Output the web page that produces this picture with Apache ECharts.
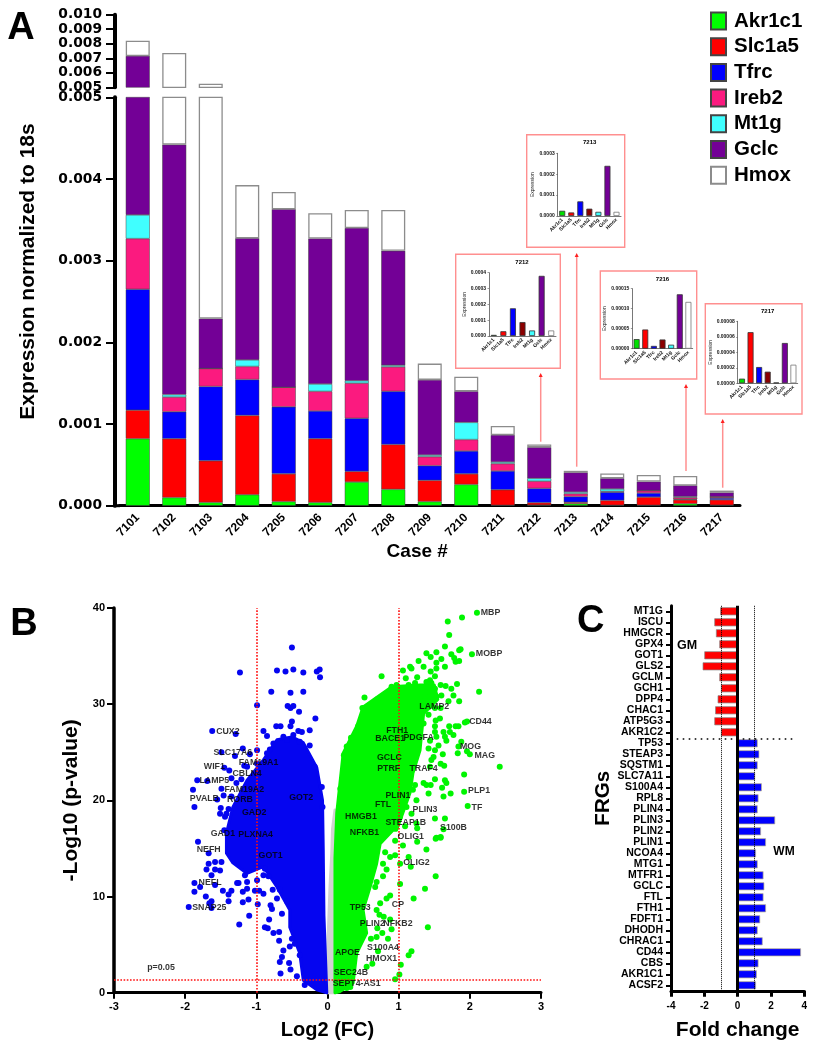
<!DOCTYPE html>
<html><head><meta charset="utf-8">
<style>html,body{margin:0;padding:0;background:#fff}#c{width:818px;height:1050px}</style>
<script src="https://cdn.jsdelivr.net/npm/echarts@6/dist/echarts.min.js"></script>
</head><body><div id="c"></div>
<script>
// ---------- Panel A data (expression x 1000, labels show the true value) ----------
const cases=['7101','7102','7103','7204','7205','7206','7207','7208','7209','7210','7211','7212','7213','7214','7215','7216','7217'];
const akr1c1=[.82,.1,.04,.135,.05,.04,.29,.2,.05,.26,.005,.007,.025,.005,.005,.024,.006];
const slc1a5=[.35,.72,.51,.97,.34,.78,.13,.55,.26,.13,.19,.03,.017,.06,.1,.048,.066];
const tfrc=[1.48,.33,.91,.44,.82,.34,.65,.65,.18,.28,.23,.175,.07,.1,.05,.007,.021];
const ireb2=[.62,.18,.22,.16,.24,.24,.43,.3,.11,.14,.09,.088,.035,.01,.03,.023,.015];
const mt1g=[.29,.03,0,.08,0,.09,.03,.02,.02,.21,.02,.035,.02,.03,0,.01,.001];
const gclc=[3.6,3.06,.61,1.49,2.18,1.78,1.87,1.4,.92,.38,.33,.38,.24,.13,.11,.136,.052];
const hmox=[1.05,2.95,2.96,.65,.21,.31,.22,.5,.2,.18,.11,.035,.02,.06,.08,.117,.024];
const geneNames=['Akr1c1','Slc1a5','Tfrc','Ireb2','Mt1g','Gclc','Hmox'];
const geneColors=['#00ff00','#ff0000','#0000ff','#fb1a7f','#40ffff','#730096','#ffffff'];
// ---------- Inset data ----------
const insetGenes=['Akr1c1','Slc1a5','Tfrc','Ireb2','Mt1g','Gclc','Hmox'];
const insetColors=['#00e000','#ff0000','#0000ff','#8b0000','#40ffff','#730096','#ffffff'];
const inset7212=[.000007,.00003,.000175,.000088,.000035,.00038,.000035];
const inset7213=[.000025,.000017,.00007,.000035,.00002,.00024,.00002];
const inset7216=[.000024,.000048,.000007,.000023,.00001,.000136,.000117];
const inset7217=[.000006,.000066,.000021,.000015,.000001,.000052,.000024];
// ---------- Panel B data: dense regions (outlines) and individually visible points ----------
const grayRegion=[[0.105,19],[0.07,17],[0.06,14.5],[0.035,11],[0,4],[-0.01,0],[0.12,0],[0.13,10]];
const blueRegion=[[-0.34,26],[-0.15,23.4],[-0.07,20],[-0.06,15],[-0.05,8],[-0.01,0],[-0.15,0.3],[-0.34,1.3],[-0.39,4.1],[-0.53,6.8],[-0.53,8.6],[-0.71,11],[-0.9,13.1],[-1.13,12.4],[-1.33,13.5],[-1.42,14.5],[-1.42,16.6],[-1.33,19.3],[-1.13,22.1],[-0.9,24.2],[-0.71,26.3],[-0.5,26.6]];
const greenRegion=[[0.105,0],[0.105,14],[0.13,18.7],[0.22,24.9],[0.41,27.7],[0.5,29.7],[0.9,31.8],[1.3,32],[1.5,32],[1.55,30.5],[1.35,29],[1.3,25.2],[1.2,22.8],[1.16,20.8],[1.06,18.7],[0.97,16.9],[0.92,16.9],[0.74,15.5],[0.69,13.4],[0.6,11],[0.5,8.6],[0.55,6.2],[0.41,4.1],[0.36,1],[0.17,0.1]];
const blueDots=[[-.5,35.9],[-1.23,33.3],[-.71,33.5],[-.59,33.4],[-.48,33.6],[-.34,33.3],[-.15,33.4],[-.11,33.6],[-.105,32.8],[-.79,31.3],[-.52,31.2],[-.34,31.3],[-.99,29.9],[-.56,29.8],[-.52,29.6],[-.48,29.8],[-.4,29.2],[-.17,28.5],[-.5,28.2],[-.72,27.7],[-.66,27.7],[-.52,27.7],[-1.62,27.2],[-1.29,26.9],[-.9,27.2],[-.85,26.7],[-.41,27.2],[-.25,27.3],[-.36,27.1],[-.62,26.6],[-.99,25.2],[-1.19,25.4],[-1.49,25],[-1.3,24.6],[-1.09,24.8],[-.81,25.3],[-1.45,23.4],[-1.38,23.1],[-1.83,22.1],[-1.69,22],[-1.89,21.1],[-1.35,22.3],[-1.49,21.2],[-1.55,20.1],[-1.46,20.5],[-1.87,19.3],[-1.5,19.2],[-1.39,19.1],[-1.44,18.3],[-1.51,18.6],[-1.17,23.6],[-1.21,22.2],[-1.82,15.7],[-1.67,14.5],[-1.58,13.6],[-1.67,13.4],[-1.49,13.6],[-1.7,12.8],[-1.58,12.8],[-1.51,12.7],[-1.63,12.2],[-1.87,11.4],[-1.79,11],[-1.58,11.2],[-1.87,10.5],[-1.47,10.6],[-1.35,10.6],[-1.71,10],[-1.39,10.2],[-1.63,9.5],[-1.39,9.5],[-1.95,8.9],[-1.66,9.3],[-1.63,8.8],[-1.25,11.4],[-1.19,10.5],[-1.13,10.8],[-1.19,9.4],[-1.11,9.7],[-1.1,8],[-1.24,7.1],[-.98,9.2],[-1.02,10.6],[-.96,10.6],[-.9,10.3],[-.77,10.7],[-.88,6.8],[-.84,6.7],[-.82,7.6],[-.76,6.2],[-.68,6.3],[-.8,9.1],[-.78,8.7],[-.71,9.8],[-.64,8.2],[-.68,5.4],[-.5,5.6],[-.53,4.8],[-.62,4.4],[-.64,3.7],[-.67,3.2],[-.66,2],[-.54,3.1],[-.46,5.1],[-.39,3.9],[-.52,2.4],[-.43,1.7],[-.32,.8],[-.88,12.9],[-.9,12.2],[-.83,12.1],[-1.16,12.2],[-1.13,11.5],[-1.27,11.4],[-.99,11.7],[-.67,10.7],[-.57,9.5],[-.57,26.3],[-.48,26.8],[-.39,26.1],[-.25,25.7],[-.18,23.5],[-.08,21.4],[-.07,19.3],[-.76,25.9],[-.85,24.9],[-.99,23.8],[-1.13,23.5],[-1.28,21.8],[-1.35,20.4],[-1.42,18.6],[-1.45,16.9]];
const greenDots=[[2.1,39.5],[1.89,39],[1.69,38.6],[1.71,37.2],[1.65,36],[2.03,35.2],[1.87,35.7],[1.85,35.6],[1.53,35.4],[1.39,35.3],[1.45,34.9],[1.74,35.2],[1.78,34.8],[1.85,34.5],[1.8,34.4],[1.6,34.7],[1.53,34.3],[1.28,34.5],[1.35,33.9],[1.16,33.9],[1.18,33.7],[1.06,33.5],[1.65,33.9],[1.53,33.7],[1.45,33.4],[.76,32.9],[1.1,32.7],[1.26,32.8],[1.51,32.9],[1.44,32.5],[1.82,32.1],[1.59,32],[1.66,31.9],[1.74,31.6],[2.13,31.3],[.52,30.7],[.7,30.5],[1.77,30.9],[1.85,30.3],[1.7,30.3],[.49,29.6],[.64,29.7],[1.59,29.6],[1.58,28.5],[1.52,28.3],[1.93,28.1],[1.96,28.2],[1.8,27.7],[1.84,27.7],[1.71,27.7],[1.51,27.7],[1.72,27.1],[1.63,27.1],[1.65,26.6],[1.77,26.8],[1.88,26.1],[1.84,25.6],[1.67,26.2],[1.96,25.1],[2,24.8],[1.83,24.9],[1.62,24.8],[2.42,23.5],[1.46,24.2],[1.59,23.8],[1.64,23.6],[1.92,22.7],[1.51,22.2],[1.65,22.1],[1.67,21.8],[1.39,21.6],[1.45,21.6],[1.61,21.3],[1.42,20.7],[1.73,20.7],[1.92,20.9],[1.63,20.4],[1.97,19.4],[1.25,20],[1.51,18.1],[1.65,18.1],[1.53,16.1],[1.59,16.2],[1.63,17],[1.59,16.1],[1.52,16],[1.26,17.1],[1.26,15.7],[1.06,15.3],[.95,15.8],[1.39,14.9],[1.14,14.1],[1.02,13.4],[1.17,13.1],[.81,14.6],[.95,14.3],[.88,14.1],[.78,13.4],[1.52,12.1],[1.02,11.3],[1.37,10.8],[.83,12.8],[.78,12.1],[.69,11.5],[.67,11],[1.21,9.8],[.88,10.1],[.83,9.8],[.74,9.3],[.69,8.6],[.73,8.1],[.79,7.9],[.88,7.6],[1.41,6.8],[.9,6.6],[.7,6.7],[.77,6.2],[.69,5.8],[.61,5.6],[.85,5.6],[1.18,4.3],[1.14,3.9],[.71,4.3],[.63,3],[.55,2.7],[1.03,2.9],[1.01,1.9],[.95,1.4],[.27,.5],[.32,.6],[.9,31.8],[.97,32],[1.04,31.6],[1.14,32],[1.23,32.2],[1.3,31.7],[1.39,32.3],[1.46,32.2],[1.51,31.6],[1.44,31.5],[1.53,30.8],[1.49,30.4],[1.6,30.9],[1.37,30.8],[1.42,29.7],[1.51,29.6],[1.42,28.9],[1.35,28],[1.51,27.1],[1.53,26.6],[1.44,26.2],[1.42,25.4],[1.56,25.7],[1.51,25.2],[1.49,24.5],[1.44,23.5],[1.35,21.8],[1.23,21.6],[1.2,21.1],[1.11,19.3],[1.18,18.6],[1.02,18.3],[1.09,17.3],[1.25,17.6],[.33,26.5],[.43,27.7],[.27,25.6],[.23,24.7],[.18,21.2],[.6,29.4],[.76,29.7],[.88,31.1]];
const geneLabels=[['CUX2',-1.4,27.2],['SLC17A6',-1.33,25],['FAM19A1',-.97,23.9],['WIF1',-1.59,23.5],['CBLN4',-1.13,22.8],['LAMP5',-1.59,22.1],['FAM19A2',-1.17,21.1],['PVALB',-1.73,20.2],['RORB',-1.23,20.1],['GOT2',-.37,20.3],['GAD2',-1.03,18.7],['GAD1',-1.47,16.5],['PLXNA4',-1.01,16.4],['NEFH',-1.67,14.9],['GOT1',-.8,14.3],['NEFL',-1.65,11.4],['SNAP25',-1.66,8.9],['p=0.05',-2.34,2.6],['MBP',2.29,39.5],['MOBP',2.27,35.3],['LAMP2',1.5,29.7],['CD44',2.15,28.2],['FTH1',.98,27.3],['BACE1',.88,26.4],['PDGFA',1.28,26.5],['MOG',2.01,25.6],['MAG',2.21,24.7],['GCLC',.87,24.4],['PTRF',.86,23.3],['TRAF4',1.35,23.3],['PLIN1',.99,20.5],['PLP1',2.13,21],['TF',2.1,19.3],['FTL',.78,19.6],['PLIN3',1.37,19],['HMGB1',.47,18.3],['STEAP1B',1.1,17.7],['S100B',1.77,17.2],['NFKB1',.52,16.7],['OLIG1',1.17,16.2],['OLIG2',1.25,13.5],['CP',.99,9.2],['TP53',.46,8.8],['PLIN2',.63,7.2],['NFKB2',.99,7.2],['S100A4',.78,4.7],['APOE',.28,4.2],['HMOX1',.76,3.6],['SEC24B',.33,2.1],['SEPT4-AS1',.41,1]];
// ---------- Panel C data ----------
const gmGenes=['MT1G','ISCU','HMGCR','GPX4','GOT1','GLS2','GCLM','GCH1','DPP4','CHAC1','ATP5G3','AKR1C2'];
const gmFold=[-1.05,-1.4,-1.3,-1.1,-2,-2.1,-1.1,-1,-1.2,-1.35,-1.4,-1];
const wmGenes=['TP53','STEAP3','SQSTM1','SLC7A11','S100A4','RPL8','PLIN4','PLIN3','PLIN2','PLIN1','NCOA4','MTG1','MTFR1','GCLC','FTL','FTH1','FDFT1','DHODH','CHRAC1','CD44','CBS','AKR1C1','ACSF2'];
const wmFold=[1.2,1.3,1.2,1.05,1.45,1.25,1.2,2.25,1.4,1.7,1.1,1.2,1.55,1.6,1.55,1.7,1.35,1.2,1.5,3.8,1.25,1.15,1.1];

const AR='"Liberation Sans",Arial,sans-serif', DJ='"DejaVu Sans",sans-serif';
const grids=[],xAxes=[],yAxes=[],series=[],graphic=[];
const line=(x1,y1,x2,y2,color,w,dash)=>graphic.push({type:'line',silent:true,z:20,shape:{x1,y1,x2,y2},style:{stroke:color,lineWidth:w,lineDash:dash||null}});
const text=(t,x,y,size,weight,rot)=>graphic.push({type:'text',silent:true,z:30,x,y,rotation:rot||0,style:{text:t,fill:'#000',font:`${weight} ${size}px ${AR}`,textAlign:'center',textVerticalAlign:'middle'}});

// Panel A lower + upper
grids.push({left:119.5,top:97.3,width:620.5,height:408.4});
grids.push({left:119.5,top:14.7,width:620.5,height:72.6});
const bigTick={fontFamily:DJ,fontWeight:'bold',fontSize:13.8,lineHeight:10,color:'#000',margin:13,showMinLabel:true,showMaxLabel:true,hideOverlap:false,formatter:v=>(v/1000).toFixed(3)};
xAxes.push({gridIndex:0,type:'category',data:cases,name:'Case #',nameLocation:'middle',nameGap:35,
  nameTextStyle:{fontFamily:AR,fontWeight:'bold',fontSize:19,color:'#000',padding:[0,25,0,0]},
  axisLine:{show:true,lineStyle:{color:'#000',width:3}},axisTick:{alignWithLabel:true,length:5,lineStyle:{color:'#000',width:4}},
  axisLabel:{rotate:45,interval:0,fontFamily:AR,fontWeight:'bold',fontSize:12,color:'#000',margin:10}});
xAxes.push({gridIndex:1,type:'category',data:cases,show:false});
yAxes.push({gridIndex:0,type:'value',min:0,max:5,interval:1,offset:4.5,name:'Expression normalized to 18s',nameLocation:'middle',nameGap:76,
  nameTextStyle:{fontFamily:AR,fontWeight:'bold',fontSize:21,color:'#000',padding:[0,0,0,60]},
  axisLine:{show:true,lineStyle:{color:'#000',width:4}},axisTick:{show:true,length:9,lineStyle:{color:'#000',width:2}},splitLine:{show:false},
  axisLabel:bigTick});
yAxes.push({gridIndex:1,type:'value',min:5,max:10,interval:1,offset:4.5,
  axisLine:{show:true,lineStyle:{color:'#000',width:4}},axisTick:{show:true,length:9,lineStyle:{color:'#000',width:2}},splitLine:{show:false},
  axisLabel:bigTick});
[akr1c1,slc1a5,tfrc,ireb2,mt1g,gclc,hmox].forEach((d,i)=>{
  [0,1].forEach(g=>series.push({type:'bar',name:geneNames[i],xAxisIndex:g,yAxisIndex:g,stack:'s'+g,data:d,barWidth:24,clip:true,
    itemStyle:{color:geneColors[i],borderColor:i==6?'#8c8c8c':'#444',borderWidth:i==6?1.3:.5}}));
});
line(113,505.7,120,505.7,'#000',3);

// Insets
const insets=[
 {t:'7212',d:inset7212,max:.0004,step:.0001,dp:4,box:[455.7,254.3,560.3,368.3],ax:[489,272.7,556,336]},
 {t:'7213',d:inset7213,max:.0003,step:.0001,dp:4,box:[526.7,134.7,624.7,247.3],ax:[557.7,153.3,621,216]},
 {t:'7216',d:inset7216,max:.00015,step:.00005,dp:5,box:[600.3,271,696.7,379],ax:[632.3,288.7,692.7,348.7]},
 {t:'7217',d:inset7217,max:.00008,step:.00002,dp:5,box:[705.3,303.7,802,414],ax:[737.7,321.3,797.7,383.3]}];
insets.forEach((n,k)=>{
  const g=4+k, [bx1,by1,bx2,by2]=n.box;
  graphic.push({type:'rect',silent:true,z:1,shape:{x:bx1,y:by1,width:bx2-bx1,height:by2-by1},style:{fill:'#fff',stroke:'#ff8f8f',lineWidth:1.4}});
  n.g=g;
});
// Panel B
grids.push({left:114,top:608,width:427,height:384.7});
xAxes.push({gridIndex:2,type:'value',min:-3,max:3,interval:1,name:'Log2 (FC)',nameLocation:'middle',nameGap:28,
  nameTextStyle:{fontFamily:AR,fontWeight:'bold',fontSize:20,color:'#000'},
  axisLine:{show:true,onZero:false,lineStyle:{color:'#000',width:3}},axisTick:{show:true,length:6,lineStyle:{color:'#000',width:2}},splitLine:{show:false},
  axisLabel:{fontFamily:AR,fontWeight:'bold',fontSize:11,color:'#000',margin:9}});
yAxes.push({gridIndex:2,type:'value',min:0,max:40,interval:10,name:'-Log10 (p-value)',nameLocation:'middle',nameGap:27,
  nameTextStyle:{fontFamily:AR,fontWeight:'bold',fontSize:21,color:'#000'},
  axisLine:{show:true,onZero:false,lineStyle:{color:'#000',width:3.5}},axisTick:{show:true,length:7,lineStyle:{color:'#000',width:2}},splitLine:{show:false},
  axisLabel:{fontFamily:AR,fontWeight:'bold',fontSize:11,color:'#000',margin:9}});
const region=(d,color,z)=>({type:'custom',xAxisIndex:2,yAxisIndex:2,data:d,z,silent:true,clip:false,
  renderItem:(p,api)=>p.dataIndex?null:{type:'polygon',shape:{points:d.map(q=>api.coord(q))},style:{fill:color,stroke:color,lineWidth:3,lineJoin:'round'}}});
series.push(region(grayRegion,'#d2d2d2',2),region(blueRegion,'#0505f0',3),region(greenRegion,'#00f500',3));
const dotStyle=(d,c)=>({type:'scatter',xAxisIndex:2,yAxisIndex:2,data:d,symbolSize:6,z:4,silent:true,itemStyle:{color:c,opacity:1}});
series.push(dotStyle(blueDots,'#0505f0'),dotStyle(greenDots,'#00f500'));
series.push({type:'scatter',xAxisIndex:2,yAxisIndex:2,symbolSize:0,z:6,silent:true,data:geneLabels.map(g=>({name:g[0],value:[g[1],g[2]]})),
  label:{show:true,position:'inside',formatter:p=>p.name,fontFamily:AR,fontWeight:'bold',fontSize:8.8,color:'#000'},labelLayout:{hideOverlap:false},
  markLine:{silent:true,symbol:'none',z:5,animation:false,label:{show:false},lineStyle:{color:'#ff1010',type:'dotted',width:1.6},
    data:[{xAxis:-1},{xAxis:1},{yAxis:1.3}]}});
// Panel C
grids.push({left:671,top:605.8,width:133.3,height:385});
xAxes.push({gridIndex:3,type:'value',position:'bottom',min:-4,max:4,interval:2,name:'Fold change',nameLocation:'middle',nameGap:29,
  nameTextStyle:{fontFamily:AR,fontWeight:'bold',fontSize:21,color:'#000'},
  axisLine:{show:true,onZero:false,lineStyle:{color:'#000',width:3}},axisTick:{show:true,length:6,lineStyle:{color:'#000',width:3}},splitLine:{show:false},
  axisLabel:{fontFamily:AR,fontWeight:'bold',fontSize:10,color:'#000',margin:10}});
const allGenes=gmGenes.concat(wmGenes);
yAxes.push({gridIndex:3,type:'category',inverse:true,data:allGenes,name:'FRGs',nameLocation:'middle',nameGap:56,
  nameTextStyle:{fontFamily:AR,fontWeight:'bold',fontSize:20.5,color:'#000'},
  axisLine:{show:true,onZero:false,lineStyle:{color:'#000',width:3}},axisTick:{show:true,alignWithLabel:true,length:5,lineStyle:{color:'#000',width:2}},
  axisLabel:{interval:0,fontFamily:AR,fontWeight:'bold',fontSize:10.5,color:'#000',margin:8}});
const blanks=n=>new Array(n).fill(null);
series.push({type:'bar',xAxisIndex:3,yAxisIndex:3,stack:'fc',barWidth:8,data:gmFold.concat(blanks(wmFold.length)),itemStyle:{color:'#ff0000',borderColor:'#888',borderWidth:.7}});
series.push({type:'bar',xAxisIndex:3,yAxisIndex:3,stack:'fc',barWidth:8,data:blanks(gmFold.length).concat(wmFold),itemStyle:{color:'#0000ff',borderColor:'#b8b090',borderWidth:.7},
  markLine:{silent:true,symbol:'none',animation:false,label:{show:false},
    data:[{xAxis:-1,lineStyle:{color:'#000',type:'dotted',width:1}},{xAxis:1,lineStyle:{color:'#000',type:'dotted',width:1}},{xAxis:0,lineStyle:{color:'#000',type:'solid',width:3}}]}});
line(676.7,739,794,739,'#000',1.6,[1.6,4.4]);
text('GM',687,645.7,12.5,'bold'); text('WM',784,851.7,12,'bold');
// Inset grids
insets.forEach(n=>{
  const [l,t,r,b]=n.ax;
  grids.push({left:l,top:t,width:r-l,height:b-t,z:5});
  xAxes.push({gridIndex:n.g,type:'category',data:insetGenes,z:5,axisLine:{show:true,lineStyle:{color:'#555',width:.8}},axisTick:{alignWithLabel:true,length:1.5,lineStyle:{color:'#555',width:.6}},
    axisLabel:{rotate:45,interval:0,fontFamily:AR,fontWeight:'bold',fontSize:5,color:'#111',margin:3}});
  yAxes.push({gridIndex:n.g,type:'value',min:0,max:n.max,interval:n.step,z:5,name:'Expression',nameLocation:'middle',nameGap:19,
    nameTextStyle:{fontFamily:AR,fontSize:5,color:'#222'},
    axisLine:{show:true,lineStyle:{color:'#555',width:.8}},axisTick:{show:true,length:1.5,lineStyle:{color:'#555',width:.6}},splitLine:{show:false},
    axisLabel:{fontFamily:AR,fontWeight:'bold',fontSize:5,color:'#111',margin:3,formatter:v=>v.toFixed(n.dp)}});
  series.push({type:'bar',xAxisIndex:n.g,yAxisIndex:n.g,barWidth:6,z:6,silent:true,
    data:n.d.map((v,i)=>({value:v,itemStyle:{color:insetColors[i],borderColor:i==6?'#777':'#333',borderWidth:.8}}))});
  text(n.t,(n.box[0]+n.box[2])/2+14,n.box[1]+8,6,'bold');
});
// Arrows from bars to insets
const arrow=(x,y1,y2)=>{line(x,y1,x,y2+3,'#ff8f8f',1.5);
  graphic.push({type:'polygon',silent:true,z:21,shape:{points:[[x,y2],[x-2,y2+4],[x+2,y2+4]]},style:{fill:'#ff2020'}});};
arrow(540.7,441.7,373); arrow(576.7,466.7,253); arrow(686,471,384); arrow(722.7,487.7,419);
// Panel letters
text('A',21,29,38,'bold'); text('B',24,625,38,'bold'); text('C',590.7,621.7,38,'bold');

const chart=echarts.init(document.getElementById('c'),null,{renderer:'canvas'});
chart.setOption({animation:false,backgroundColor:'#fff',
  legend:{orient:'vertical',left:710,top:10.5,padding:0,data:geneNames,itemWidth:15,itemHeight:17,itemGap:4.7,icon:'rect',selectedMode:false,
    textStyle:{fontFamily:AR,fontWeight:'bold',fontSize:20.5,color:'#000',padding:[0,0,0,3]}},
  grid:grids,xAxis:xAxes,yAxis:yAxes,series,graphic});
</script></body></html>
